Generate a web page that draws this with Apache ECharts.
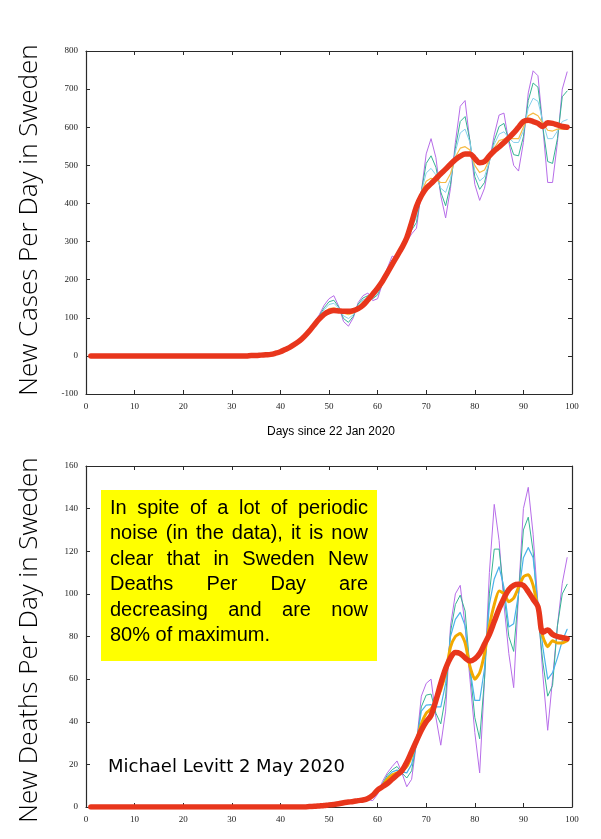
<!DOCTYPE html>
<html><head><meta charset="utf-8">
<script src="https://cdn.jsdelivr.net/npm/echarts@6/dist/echarts.min.js"></script>
<style>html,body{margin:0;padding:0;background:#fff;}#c{width:601px;height:839px;}</style>
</head><body><div id="c"></div>
<script>
// ---------- DATA (days since 22 Jan 2020: 1..99) ----------
const days = [1,2,3,4,5,6,7,8,9,10,11,12,13,14,15,16,17,18,19,20,21,22,23,24,25,26,27,28,29,30,31,32,33,34,35,36,37,38,39,40,41,42,43,44,45,46,47,48,49,50,51,52,53,54,55,56,57,58,59,60,61,62,63,64,65,66,67,68,69,70,71,72,73,74,75,76,77,78,79,80,81,82,83,84,85,86,87,88,89,90,91,92,93,94,95,96,97,98,99];
const xTicks = [0,10,20,30,40,50,60,70,80,90,100];
const casesTicks = [-100,0,100,200,300,400,500,600,700,800];
const deathsTicks = [0,20,40,60,80,100,120,140,160];

// New cases per day (top panel), days 1..39 identical (near zero)
const casesEarly = [0,0,0,0,0,0,0,0,0,0,0,0,0,0,0,0,0,0,0,0,0,0,0,0,0,0,0,0,0,0,0,0,0,1,1,2,3,4,7];
// days 40..99
const casesPurple = [10,15,21,29,38,50,66,88,108,133,150,158,130,90,78,100,140,158,165,145,150,190,230,262,255,275,300,320,335,430,530,570,520,420,362,440,560,655,670,560,450,408,440,510,580,632,637,560,500,485,560,690,748,735,600,455,455,560,700,745];
const casesGreen  = [10,15,21,30,39,51,67,86,105,126,142,146,128,98,88,104,136,152,158,150,160,190,225,252,255,278,305,330,350,430,505,525,495,430,394,450,545,615,628,565,470,437,455,510,565,602,610,565,528,525,575,670,716,705,600,510,505,570,680,695];
const casesBlue   = [10,15,21,30,39,52,68,86,103,121,135,138,125,105,98,108,132,147,152,152,165,192,222,247,258,282,308,335,365,430,480,492,475,440,429,465,535,585,595,560,485,459,470,510,555,582,588,572,560,560,590,650,676,668,615,570,570,590,615,620];
const casesOrange = [10,15,21,30,39,52,68,85,101,114,124,126,122,112,108,113,128,142,150,155,170,193,220,243,262,287,312,340,378,430,458,466,462,455,455,478,522,545,549,540,500,481,488,515,545,565,569,570,570,570,600,630,637,630,610,592,590,595,595,595];
const casesRed    = [11,17,23,31,40,52,66,82,97,109,116,119,118,117,117,119,124,133,147,162,178,196,218,240,262,284,310,350,392,420,440,452,465,478,490,503,515,524,530,530,518,507,510,525,538,548,560,572,585,600,615,618,615,610,602,612,610,606,602,600];

// New deaths per day (bottom panel), days 1..56 identical (near zero)
const deathsEarly = [0,0,0,0,0,0,0,0,0,0,0,0,0,0,0,0,0,0,0,0,0,0,0,0,0,0,0,0,0,0,0,0,0,0,0,0,0,0,0,0,0,0,0,0,0,0.2,0.3,0.5,0.7,1,1.2,1.5,2,2.3,2.6,3];
// days 57..99
const deathsPurple = [3,3.5,3,6,12,16,19,21.6,16,9.5,13,30,52,58,60,42,29,45,85,100,104,85,60,35,16,60,110,142,125,95,72,56,100,140,150,128,95,62,36,60,85,105,117];
const deathsGreen  = [3.3,4,4.5,7,11,15,17.5,19,16,13.6,17,30,47,52.5,53,44,39,52,82,95,99.4,92,65,42,32,60,100,121,121,100,80,73,100,130,136,120,90,68,52,57,85,100,104.5];
const deathsBlue   = [3.3,4,5,7,10.5,14,16.5,17.3,16.5,16,20,30,45,47.8,48,47,47,58,80,88,91.3,85,65,50,50,65,95,107,112.7,103,84.5,86,100,117,121.7,117,95,75,60,63,70,78,83.4];
const deathsOrange = [3.3,4,5.5,7.5,10,13,15,16,17,19,24,31,39,44,46,50,55,63,75,80,81.4,77,66,60,63,72,85,95,101.4,100,96.3,98,103,108,109,104,93,80,75.2,78,77,77,78];
const deathsRed    = [3.3,4,5.5,8,9.5,11,13,15,17,21,26,31,36,40,43,50,58,65,70,72.5,72,70,68.5,69.5,72,76.5,81,87,93,98,102,104,104.5,104,101,97.5,94,82,83,81,80,79.5,79];

const noteLines = [
  "In spite of a lot of periodic",
  "noise (in the data), it is now",
  "clear that in Sweden New",
  "Deaths Per Day are",
  "decreasing and are now",
  "80% of maximum."
];
const signature = "Michael Levitt 2 May 2020";

// ---------- BUILD ----------
const casesSeries = {
  purple: casesEarly.concat(casesPurple),
  green: casesEarly.concat(casesGreen),
  blue: casesEarly.concat(casesBlue),
  orange: casesEarly.concat(casesOrange),
  red: casesEarly.concat(casesRed)
};
const deathsSeries = {
  purple: deathsEarly.concat(deathsPurple),
  green: deathsEarly.concat(deathsGreen),
  blue: deathsEarly.concat(deathsBlue),
  orange: deathsEarly.concat(deathsOrange),
  red: deathsEarly.concat(deathsRed)
};
const pairs = arr => days.map((d, i) => [d, arr[i]]);

const frame = '#2a2a2a';
const labelFont = { fontFamily: '"Liberation Serif", "DejaVu Serif", serif', fontSize: 9, color: '#222' };

function xAxis(grid, pos, show) {
  return { type: 'value', gridIndex: grid, position: pos, min: 0, max: 100, interval: 10,
    axisLine: { show: true, onZero: false, lineStyle: { color: frame, width: 1.2 } },
    axisTick: { show: true, inside: true, length: 4, lineStyle: { color: frame } },
    axisLabel: Object.assign({ show: show, margin: 8 }, labelFont),
    splitLine: { show: false } };
}
function yAxis(grid, pos, show, min, max, interval) {
  return { type: 'value', gridIndex: grid, position: pos, min: min, max: max, interval: interval,
    axisLine: { show: true, onZero: false, lineStyle: { color: frame, width: 1.2 } },
    axisTick: { show: true, inside: true, length: 4, lineStyle: { color: frame } },
    axisLabel: Object.assign({ show: show, margin: 8 }, labelFont),
    splitLine: { show: false } };
}

function line(name, data, xi, yi, color, width, z, smooth) {
  return { name: name, type: 'line', xAxisIndex: xi, yAxisIndex: yi, data: pairs(data),
    showSymbol: false, symbol: 'none', smooth: smooth || false, z: z, silent: true,
    lineStyle: { color: color, width: width, join: 'round', cap: 'round' } };
}

// measure text for justified note
const cv = document.createElement('canvas').getContext('2d');
const noteFont = '20px "Liberation Sans", Arial, sans-serif';
cv.font = noteFont;
const noteLeft = 110, noteRight = 368, noteTop = 508, noteStep = 25.5;
const noteEls = [];
noteLines.forEach((ln, li) => {
  const words = ln.split(' ');
  const widths = words.map(w => cv.measureText(w).width);
  const total = widths.reduce((a, b) => a + b, 0);
  const last = li === noteLines.length - 1;
  const gap = last ? cv.measureText(' ').width : (noteRight - noteLeft - total) / (words.length - 1);
  let x = noteLeft;
  words.forEach((w, wi) => {
    noteEls.push({ type: 'text', x: x, y: noteTop + li * noteStep, z: 100,
      style: { text: w, font: noteFont, fill: '#000', textVerticalAlign: 'middle', verticalAlign: 'middle' } });
    x += widths[wi] + gap;
  });
});

const sigFontFamily = '"DejaVu Sans", sans-serif';
cv.font = '20px ' + sigFontFamily;
const sigSize = Math.round(20 * 242 / cv.measureText(signature).width);

const titleFont = '300 26px "Open Sans", "Noto Sans", sans-serif';

const chart = echarts.init(document.getElementById('c'), null, { renderer: 'canvas' });
chart.setOption({
  animation: false,
  backgroundColor: '#fff',
  grid: [
    { left: 86, top: 51, width: 486, height: 343 },
    { left: 86, top: 466, width: 486, height: 341 }
  ],
  xAxis: [ xAxis(0, 'bottom', true), xAxis(0, 'top', false), xAxis(1, 'bottom', true), xAxis(1, 'top', false) ],
  yAxis: [ yAxis(0, 'left', true, -100, 800, 100), yAxis(0, 'right', false, -100, 800, 100),
           yAxis(1, 'left', true, 0, 160, 20), yAxis(1, 'right', false, 0, 160, 20) ],
  series: [
    line('cases raw', casesSeries.purple, 0, 0, '#b76de9', 1, 2),
    line('cases g', casesSeries.green, 0, 0, '#36b493', 1, 3),
    line('cases b', casesSeries.blue, 0, 0, '#86d0ee', 1, 4),
    line('cases o', casesSeries.orange, 0, 0, '#f6bb45', 1.2, 5),
    line('cases smooth', casesSeries.red, 0, 0, '#e8361c', 5.5, 6, 0.35),
    line('deaths raw', deathsSeries.purple, 2, 2, '#b76de9', 1, 2),
    line('deaths g', deathsSeries.green, 2, 2, '#36b493', 1, 3),
    line('deaths b', deathsSeries.blue, 2, 2, '#4ab2ea', 1.2, 4),
    line('deaths o', deathsSeries.orange, 2, 2, '#f2a900', 3, 5, 0.2),
    line('deaths smooth', deathsSeries.red, 2, 2, '#e8361c', 5.5, 6, 0.35)
  ],
  graphic: [
    { type: 'text', x: 30, y: 220, rotation: Math.PI / 2, z: 50,
      style: { text: 'New Cases Per Day in Sweden', font: titleFont, fill: '#000',
        textAlign: 'center', textVerticalAlign: 'middle', align: 'center', verticalAlign: 'middle' } },
    { type: 'text', x: 30, y: 640, rotation: Math.PI / 2, z: 50,
      style: { text: 'New Deaths Per Day in Sweden', font: titleFont, fill: '#000',
        textAlign: 'center', textVerticalAlign: 'middle', align: 'center', verticalAlign: 'middle' } },
    { type: 'text', x: 331, y: 432, z: 50,
      style: { text: 'Days since 22 Jan 2020', font: '12px "Liberation Sans", Arial, sans-serif', fill: '#000',
        textAlign: 'center', textVerticalAlign: 'middle', align: 'center', verticalAlign: 'middle' } },
    { type: 'rect', z: 90, shape: { x: 101, y: 490, width: 276, height: 171 }, style: { fill: '#ffff00' } },
    ...noteEls,
    { type: 'text', x: 108, y: 767, z: 100,
      style: { text: signature, font: sigSize + 'px ' + sigFontFamily, fill: '#000',
        textVerticalAlign: 'middle', verticalAlign: 'middle' } }
  ]
});
</script>
</body></html>
